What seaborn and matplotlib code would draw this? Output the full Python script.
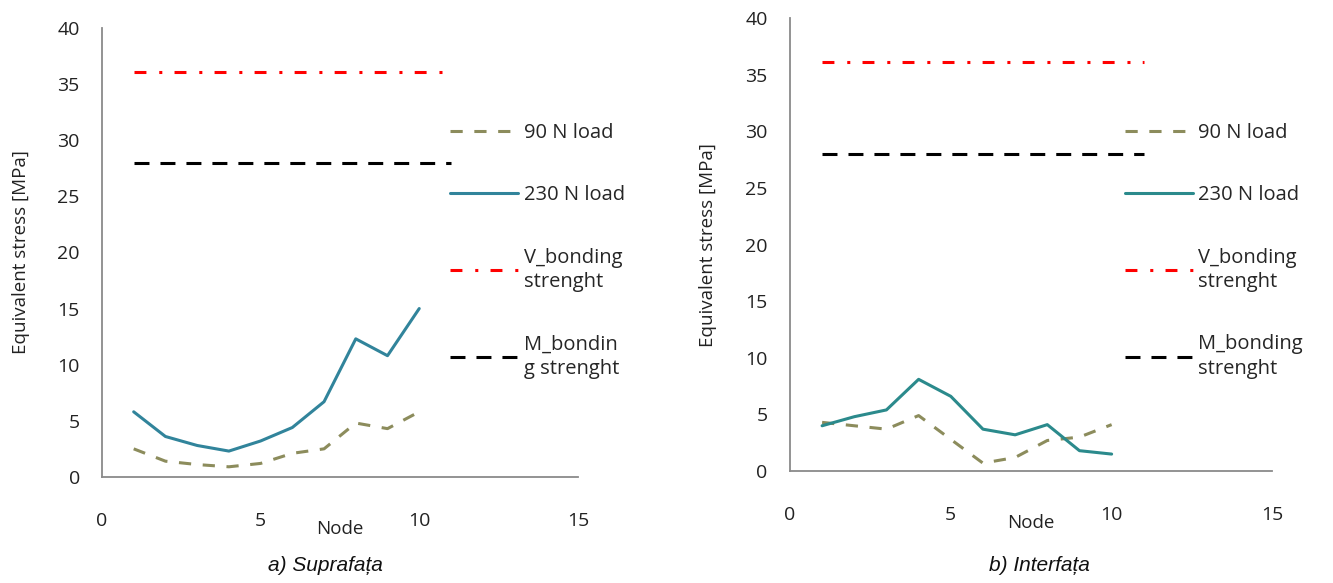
import matplotlib
matplotlib.use("Agg")
import matplotlib.pyplot as plt
import seaborn as sns

sns.set_style("white")
plt.rcParams['font.family'] = ['Open Sans', 'DejaVu Sans']

nodes = [1, 2, 3, 4, 5, 6, 7, 8, 9, 10]
ref_nodes = [1, 11]

# a) Suprafata
sup_90 = [2.5, 1.4, 1.1, 0.9, 1.2, 2.1, 2.5, 4.8, 4.3, 5.8]
sup_230 = [5.8, 3.6, 2.8, 2.3, 3.2, 4.4, 6.7, 12.3, 10.8, 15.0]
# b) Interfata
int_90 = [4.3, 4.0, 3.7, 4.9, 2.8, 0.7, 1.2, 2.7, 3.0, 4.1]
int_230 = [4.0, 4.8, 5.4, 8.1, 6.6, 3.7, 3.2, 4.1, 1.8, 1.5]

v_bond = [36.1, 36.1]
m_bond = [28.0, 28.0]

captions = ["a) Suprafața", "b) Interfața"]
m_labels = ["M_bondin\ng strenght", "M_bonding\nstrenght"]
teal = ["#31849b", "#2b8a8c"]

fig = plt.figure(figsize=(13.33, 5.83), dpi=100)
axes = [fig.add_axes([0.0765, 0.182, 0.357, 0.770]),
        fig.add_axes([0.5926, 0.192, 0.362, 0.777])]
panels = [(sup_90, sup_230), (int_90, int_230)]
leg_x = [0.324, 0.830]
cap_x = [0.244, 0.780]

for i, ax in enumerate(axes):
    s90, s230 = panels[i]
    sns.lineplot(x=nodes, y=s90, ax=ax, color="#8c8c5c", lw=2.2,
                 linestyle=(0, (4, 3.8)), label="90 N load")
    sns.lineplot(x=nodes, y=s230, ax=ax, color=teal[i], lw=2.2,
                 label="230 N load")
    sns.lineplot(x=ref_nodes, y=v_bond, ax=ax, color="#ff0000", lw=2.2,
                 linestyle=(0, (3.9, 4.2, 1, 4.0)), label="V_bonding\nstrenght")
    sns.lineplot(x=ref_nodes, y=m_bond, ax=ax, color="black", lw=2.2,
                 linestyle=(0, (4.9, 3.6)), label=m_labels[i])
    ax.set_xlim(0, 15)
    ax.set_ylim(0, 40)
    ax.set_xticks([0, 5, 10, 15])
    ax.set_yticks(range(0, 41, 5))
    ax.tick_params(axis='x', pad=25, labelsize=14, colors="#222222", length=0)
    ax.tick_params(axis='y', pad=16, labelsize=14, colors="#222222", length=0)
    for sp in ["top", "right"]:
        ax.spines[sp].set_visible(False)
    for sp in ["left", "bottom"]:
        ax.spines[sp].set_color("#8a8a8a")
        ax.spines[sp].set_linewidth(1.3)
    ax.set_xlabel("Node", fontsize=13.5, color="#222222")
    ax.xaxis.set_label_coords(0.5, -0.095)
    ax.set_ylabel("Equivalent stress [MPa]", fontsize=13.5, color="#222222")
    ax.yaxis.set_label_coords(-0.151, 0.5)
    leg = ax.legend(loc="upper left", bbox_to_anchor=(leg_x[i], 0.82),
                    bbox_transform=fig.transFigure, frameon=False, fontsize=14.5,
                    handlelength=3.4, handletextpad=0.25, labelspacing=2.1)
    for t in leg.get_texts():
        t.set_linespacing(1.3)
    fig.text(cap_x[i], 0.02, captions[i], fontsize=15, style="italic",
             ha="center", color="#111111", family=["Liberation Sans", "DejaVu Sans"])

fig.savefig("out.png", dpi=100, facecolor="white")
